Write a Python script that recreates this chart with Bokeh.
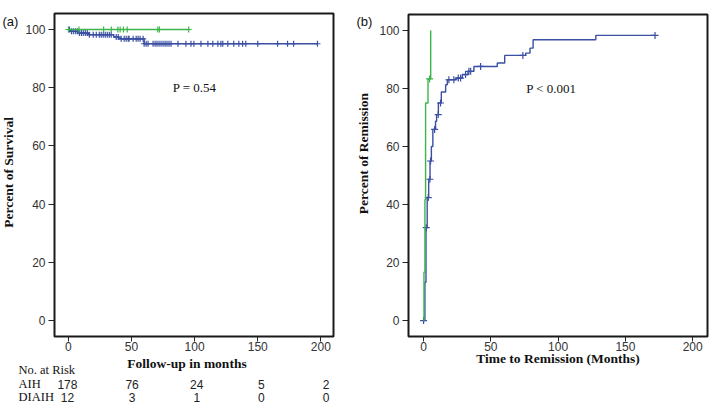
import numpy as np
from bokeh.plotting import figure
from bokeh.layouts import row, column
from bokeh.core.properties import value
from bokeh.embed import file_html
from bokeh.resources import INLINE

BLUE = "#3b4fa3"
GREEN = "#3cb54a"

# ---- Panel (a): survival ----
a_aih_t = [0, 1.6, 8.0, 16.0, 36.0, 40.0, 60.0]
a_aih_s = [100, 99.4, 98.8, 98.2, 97.4, 96.8, 95.1]
a_aih_end = 197
a_aih_cens = [0.8, 2.4, 3.9, 5.5, 7.1, 8.7, 10.3, 11.8, 13.4, 15.0, 16.6, 19.7, 22.1,
              24.5, 26.0, 27.6, 29.2, 30.8, 32.4, 33.9, 37.9, 39.5, 41.8, 44.2, 45.8,
              47.4, 48.1, 51.3, 53.7, 55.2, 56.8, 59.2, 60.0, 61.6, 63.1, 67.1, 68.7,
              70.2, 71.8, 73.4, 75.0, 76.6, 78.1, 79.7, 81.3, 86.8, 93.1, 97.1, 99.4,
              105.0, 110.5, 114.4, 118.4, 120.8, 122.3, 126.3, 131.0, 135.0, 138.0,
              140.5, 150.0, 165.7, 173.6, 178.4, 197.3]
a_dia_t = [0]
a_dia_s = [100]
a_dia_end = 95.5
a_dia_cens = [0, 8.4, 27.9, 34.0, 39.2, 41.0, 43.6, 46.6, 70.8, 72.1, 95.3]

risk_groups = ["AIH", "DIAIH"]
risk_times = [0, 50, 100, 150, 200]
risk_aih = [178, 76, 24, 5, 2]
risk_dia = [12, 3, 1, 0, 0]

# ---- Panel (b): remission ----
b_aih_t = [0, 1.0, 1.8, 2.7, 3.8, 4.8, 5.8, 6.9, 8.9, 9.7, 11.0, 13.2, 16.4, 17.6,
           24.1, 28.8, 33.0, 37.4, 54.8, 60.3, 75.9, 79.1, 81.4, 128.0]
b_aih_s = [0, 13.2, 32.0, 42.4, 48.7, 55.0, 60.0, 65.9, 68.7, 71.0, 75.0, 78.8, 81.3,
           83.0, 83.6, 84.8, 85.9, 87.6, 88.8, 91.4, 92.2, 93.9, 96.8, 98.3]
b_aih_end = 172
b_aih_cens = [0, 2.0, 3.5, 4.7, 5.2, 8.2, 10.9, 12.6, 18.8, 22.5, 25.8, 27.5, 31.2,
              33.7, 35.0, 42.4, 73.8, 172]
b_dia_t = [0, 0.3, 1.0, 1.5, 3.3, 5.3]
b_dia_s = [0, 16.7, 41.7, 75.0, 83.3, 100]
b_dia_end = 5.3
b_dia_cens = [4.5]

y_ticks = [0, 20, 40, 60, 80, 100]
x_ticks = [0, 50, 100, 150, 200]

SERIF = value("Liberation Serif")
SANS = value("Liberation Sans")
TXT = "#111111"


def step_at(ts, ss, t):
    idx = np.searchsorted(np.asarray(ts), np.asarray(t), side="right") - 1
    idx = np.clip(idx, 0, len(ss) - 1)
    return np.asarray(ss)[idx]


def style(p):
    p.grid.visible = False
    p.outline_line_color = "#1a1a1a"
    p.outline_line_width = 2
    p.axis.axis_line_color = None
    p.yaxis.major_tick_out = 6
    p.xaxis.major_tick_out = 5
    p.axis.major_tick_in = 0
    p.axis.minor_tick_out = 0
    p.axis.minor_tick_in = 0
    p.axis.major_tick_line_color = "#222222"
    p.axis.major_label_text_font = "Liberation Sans"
    p.axis.major_label_text_font_size = "12px"
    p.axis.major_label_text_color = "#333333"
    p.yaxis.major_label_standoff = 3
    p.xaxis.major_label_standoff = 0
    p.xaxis.ticker = x_ticks
    p.yaxis.ticker = y_ticks
    p.background_fill_color = "white"
    p.border_fill_color = "white"


def draw_km(p, ts, ss, end, cens, color, msize):
    xs = list(ts) + [end]
    ys = list(ss) + [ss[-1]]
    p.step(xs, ys, mode="after", line_color=color, line_width=1.4)
    cy = step_at(ts, ss, cens)
    p.scatter(cens, cy, marker="cross", size=msize, line_color=color, line_width=1.2)


def blank(w, h, xr=None):
    p = figure(width=w, height=h, x_range=xr if xr else (0, w), y_range=(0, h),
               output_backend="svg", toolbar_location=None,
               x_axis_location=None, y_axis_location=None,
               min_border_left=0, min_border_right=0, min_border_top=0, min_border_bottom=0)
    p.grid.visible = False
    p.outline_line_color = None
    p.background_fill_color = "white"
    p.border_fill_color = "white"
    return p


# ---------- column A ----------
FA_X0, FA_X1 = -11, 210
TOP_A = 355
fa = figure(width=333, height=TOP_A, x_range=(FA_X0, FA_X1), y_range=(-5.5, 105.5),
            output_backend="svg", toolbar_location=None,
            min_border_left=31, min_border_right=22, min_border_top=13, min_border_bottom=19)
style(fa)
draw_km(fa, a_aih_t, a_aih_s, a_aih_end, a_aih_cens, BLUE, 6)
draw_km(fa, a_dia_t, a_dia_s, a_dia_end, a_dia_cens, GREEN, 6)
fa.text(x=[100], y=[80], text=["P = 0.54"], text_font=SERIF, text_font_size="13px",
        text_align="center", text_baseline="middle", text_color=TXT)

strip_a = blank(22, TOP_A)
strip_a.text(x=[2], y=[TOP_A - 9], text=["(a)"], text_font=SANS, text_font_size="13px",
             text_align="left", text_baseline="middle", text_color=TXT)
strip_a.text(x=[7.5], y=[TOP_A - 174.5], text=["Percent of Survival"], angle=np.pi / 2,
             text_font=SERIF, text_font_style="bold", text_font_size="13.5px",
             text_align="center", text_baseline="middle", text_color=TXT)

# risk table panel: x mapped to the same months scale as fa's frame (page 53..333)
pxm = 280 / (FA_X1 - FA_X0)
rx0 = FA_X0 - 53 / pxm
rx1 = FA_X1 + 22 / pxm
RH = 404 - TOP_A
risk = blank(355, RH, xr=(rx0, rx1))


def mx(page_x):
    return FA_X0 + (page_x - 53) / pxm


risk.text(x=[mx(186.5)], y=[404 - 363], text=["Follow-up in months"], text_font=SERIF,
          text_font_style="bold", text_font_size="13.5px", text_align="center",
          text_baseline="middle", text_color=TXT)
risk.text(x=[mx(18)], y=[404 - 369.5], text=["No. at Risk"], text_font=SERIF,
          text_font_size="12.5px", text_align="left", text_baseline="middle", text_color=TXT)
for name, counts, py in zip(risk_groups, (risk_aih, risk_dia), (383.5, 396.5)):
    risk.text(x=[mx(18)], y=[404 - py], text=[name], text_font=SERIF,
              text_font_size="12.5px", text_align="left", text_baseline="middle",
              text_color=TXT)
    risk.text(x=risk_times, y=[404 - py] * len(risk_times), text=[str(c) for c in counts],
              x_offset=[t / 50 * 1.3 for t in risk_times], text_font=SANS,
              text_font_size="12px", text_align="center", text_baseline="middle",
              text_color="#222222")

col_a = column(row(strip_a, fa), risk)

# ---------- column B ----------
fb = figure(width=334, height=404, x_range=(-11.2, 211), y_range=(-5.5, 105.5),
            output_backend="svg", toolbar_location=None,
            min_border_left=33, min_border_right=2, min_border_top=14, min_border_bottom=68)
style(fb)
fb.xaxis.axis_label = "Time to Remission (Months)"
fb.xaxis.axis_label_text_font = "Liberation Serif"
fb.xaxis.axis_label_text_font_style = "bold"
fb.xaxis.axis_label_text_font_size = "13.5px"
fb.xaxis.axis_label_text_color = TXT
fb.xaxis.axis_label_standoff = -3
draw_km(fb, b_aih_t, b_aih_s, b_aih_end, b_aih_cens, BLUE, 7)
draw_km(fb, b_dia_t, b_dia_s, b_dia_end, b_dia_cens, GREEN, 7)
fb.text(x=[95], y=[80], text=["P < 0.001"], text_font=SERIF, text_font_size="13px",
        text_align="center", text_baseline="middle", text_color=TXT)

strip_b = blank(20, 404)
strip_b.text(x=[1], y=[404 - 9], text=["(b)"], text_font=SANS, text_font_size="13px",
             text_align="left", text_baseline="middle", text_color=TXT)
strip_b.text(x=[7.5], y=[404 - 174.5], text=["Percent of Remission"], angle=np.pi / 2,
             text_font=SERIF, text_font_style="bold", text_font_size="13.5px",
             text_align="center", text_baseline="middle", text_color=TXT)

col_b = row(strip_b, fb)

layout = row(col_a, col_b)
open("out.html", "w").write(file_html(layout, INLINE))
